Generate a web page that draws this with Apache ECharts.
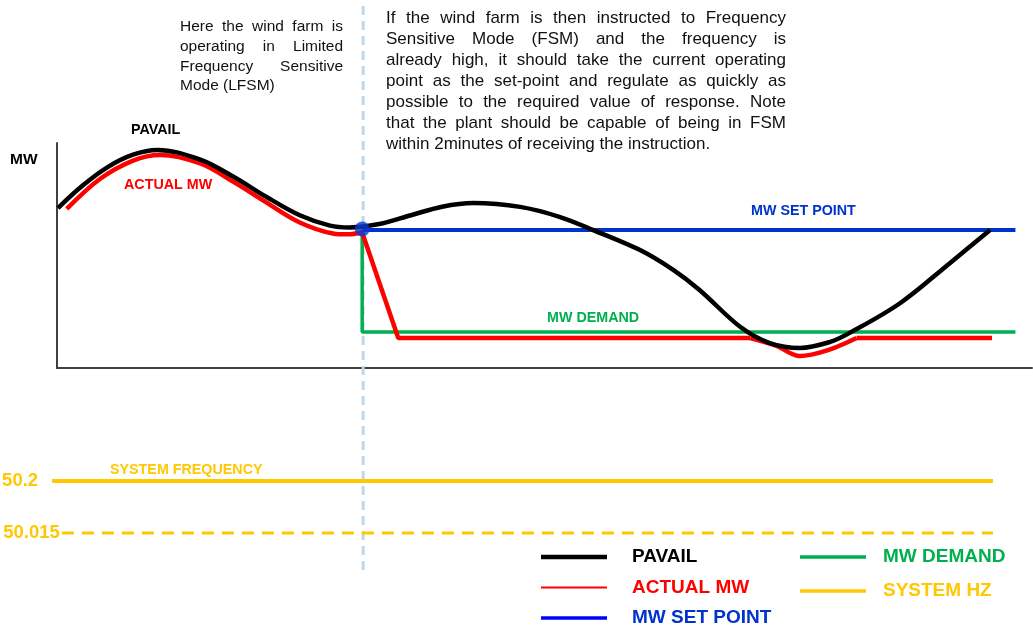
<!DOCTYPE html>
<html lang="en">
<head>
<meta charset="UTF-8">
<title>Wind farm FSM response</title>
<script src="https://cdn.jsdelivr.net/npm/echarts@6/dist/echarts.min.js"></script>
<style>
    html, body { margin: 0; padding: 0; background: #fff; }
    #main { width: 1033px; height: 630px; }
</style>
</head>
<body>
<div id="main"></div>
<script>
    // x = time (0..100 across the MW panel), y = MW (0..100, schematic)
    var pavail = [[0.1, 71.1], [2.6, 81.0], [5.2, 89.3], [7.8, 94.8], [10.3, 96.9], [14.7, 92.6],
        [18.1, 85.0], [21.5, 76.0], [24.9, 67.9], [28.0, 63.3], [30.0, 62.5], [33.2, 64.1],
        [36.3, 67.9], [39.5, 71.7], [42.7, 73.3], [47.5, 71.6], [51.6, 67.1], [55.0, 61.3],
        [59.8, 52.4], [63.2, 43.6], [65.9, 34.7], [70.1, 18.2], [73.1, 11.1], [76.2, 8.9],
        [79.3, 11.6], [81.3, 15.6], [86.5, 28.9], [91.6, 46.7], [95.7, 61.3]];
    var actualRise = [[1.0, 70.7], [4.4, 84.0], [7.8, 92.2], [10.6, 94.7], [14.7, 90.9], [18.1, 82.7],
        [21.5, 73.5], [24.9, 64.7], [28.3, 59.8], [29.8, 59.4], [31.3, 60.2]];
    var actualDrop = [[31.3, 60.2], [35.0, 13.3], [71.1, 13.3]];
    var actualDip = [[71.1, 13.3], [73.8, 9.8], [76.2, 5.3], [79.0, 7.8], [82.0, 13.3]];
    var actualTail = [[82.0, 13.3], [95.9, 13.3]];
    var setPoint = [[31.3, 61.3], [98.3, 61.3]];
    var demand = [[31.3, 61.3], [31.3, 16.0], [98.3, 16.0]];
    var switchPoint = [[31.3, 61.8]];
    var switchTime = 31.4;

    // frequency panel
    var hzLevels = ['50.015', '50.2'];
    var systemHz = [[-0.5, '50.2'], [96.0, '50.2']];
    var hzLimit = [[0.5, '50.015'], [96.0, '50.015']];

    var noteLeft = ['Here the wind farm is', 'operating in Limited', 'Frequency Sensitive', 'Mode (LFSM)'];
    var noteRight = ['If the wind farm is then instructed to Frequency',
        'Sensitive Mode (FSM) and the frequency is',
        'already high, it should take the current operating',
        'point as the set-point and regulate as quickly as',
        'possible to the required value of response. Note',
        'that the plant should be capable of being in FSM',
        'within 2minutes of receiving the instruction.'];

    var BLACK = '#000000', RED = '#ff0000', BLUE = '#0033cc', GREEN = '#00b050', GOLD = '#ffc800';
    var FONT = '"Liberation Sans", Arial, sans-serif';
    var SMOOTH = 0.35;

    // justified paragraph, word by word
    var ctx = document.createElement('canvas').getContext('2d');
    function paragraph(lines, left, right, top, step, size) {
        var font = size + 'px ' + FONT;
        ctx.font = font;
        var out = [];
        lines.forEach(function (line, i) {
            var words = line.split(' ');
            var widths = words.map(function (w) { return ctx.measureText(w).width; });
            var total = widths.reduce(function (a, b) { return a + b; }, 0);
            var last = i === lines.length - 1;
            var gap = last ? ctx.measureText(' ').width : (right - left - total) / (words.length - 1);
            var x = left;
            words.forEach(function (w, j) {
                out.push({ type: 'text', x: x, y: top + i * step,
                    style: { text: w, font: font, fill: '#111', verticalAlign: 'middle' } });
                x += widths[j] + gap;
            });
        });
        return out;
    }

    function tag(text, x, y, color, size) {
        return { type: 'text', x: x, y: y, z: 10,
            style: { text: text, font: 'bold ' + (size || 14.3) + 'px ' + FONT, fill: color, verticalAlign: 'middle' } };
    }

    var graphics = paragraph(noteLeft, 180, 343, 27, 19.7, 15.5)
        .concat(paragraph(noteRight, 386, 786, 18, 21, 17))
        .concat([
            tag('MW', 10, 160, BLACK, 15.5),
            tag('PAVAIL', 131, 130, BLACK),
            tag('ACTUAL MW', 124, 185, RED),
            tag('MW SET POINT', 751, 211, BLUE),
            tag('MW DEMAND', 547, 318, GREEN),
            tag('SYSTEM FREQUENCY', 110, 470, GOLD)
        ]);

    function hidden(extra) {
        return Object.assign({ show: false }, extra);
    }

    var myChart = echarts.init(document.getElementById('main'));
    var legendText = { fontFamily: FONT, fontWeight: 'bold', fontSize: 19, lineHeight: 20 };

    var option = {
        animation: false,
        backgroundColor: '#fff',
        grid: [
            { left: 57, right: 1, top: 143, bottom: 262 },
            { left: 57, right: 1, top: 455, bottom: 71 },
            { left: 57, right: 1, top: 0, bottom: 60 }
        ],
        xAxis: [
            { type: 'value', gridIndex: 0, min: 0, max: 100, axisLine: { lineStyle: { color: '#404040', width: 2 } },
                axisTick: { show: false }, axisLabel: { show: false }, splitLine: { show: false } },
            hidden({ type: 'value', gridIndex: 1, min: 0, max: 100 }),
            hidden({ type: 'value', gridIndex: 2, min: 0, max: 100 })
        ],
        yAxis: [
            { type: 'value', gridIndex: 0, min: 0, max: 100,
                axisLine: { show: true, lineStyle: { color: '#404040', width: 2 } },
                axisTick: { show: false }, axisLabel: { show: false }, splitLine: { show: false } },
            hidden({ type: 'category', gridIndex: 1, data: hzLevels }),
            hidden({ type: 'value', gridIndex: 2, min: 0, max: 1 })
        ],
        legend: [
            { orient: 'vertical', left: 541, top: 547, padding: 0, itemWidth: 66, itemHeight: 14, itemGap: 10.5,
                selectedMode: false, textStyle: Object.assign({ padding: [0, 0, 0, 20] }, legendText),
                data: [
                    { name: 'PAVAIL', icon: 'path://M0,0H66V4.5H0Z', textStyle: { color: BLACK } },
                    { name: 'ACTUAL MW', icon: 'path://M0,0H66V2H0Z', textStyle: { color: RED } },
                    { name: 'MW SET POINT', icon: 'path://M0,0H66V3.5H0Z', itemStyle: { color: '#0000ff' }, textStyle: { color: BLUE } }
                ] },
            { orient: 'vertical', left: 800, top: 547, padding: 0, itemWidth: 66, itemHeight: 14, itemGap: 14,
                selectedMode: false, textStyle: Object.assign({ padding: [0, 0, 0, 12] }, legendText),
                data: [
                    { name: 'MW DEMAND', icon: 'path://M0,0H66V3.5H0Z', textStyle: { color: GREEN } },
                    { name: 'SYSTEM HZ', icon: 'path://M0,0H66V3.5H0Z', textStyle: { color: GOLD } }
                ] }
        ],
        graphic: graphics,
        series: [
            { name: 'switch', type: 'line', xAxisIndex: 2, yAxisIndex: 2, z: 1, showSymbol: false,
                data: [[switchTime, 0], [switchTime, 1]],
                lineStyle: { color: '#bdd7ee', width: 3, type: [9, 6] } },
            { name: 'MW DEMAND', type: 'line', data: demand, showSymbol: false, z: 3,
                lineStyle: { color: GREEN, width: 3.5 }, itemStyle: { color: GREEN } },
            { name: 'MW SET POINT', type: 'line', data: setPoint, showSymbol: false, z: 3,
                lineStyle: { color: BLUE, width: 4 }, itemStyle: { color: BLUE } },
            { name: 'ACTUAL MW', type: 'line', data: actualRise, smooth: SMOOTH, showSymbol: false, z: 4,
                lineStyle: { color: RED, width: 4.5 }, itemStyle: { color: RED } },
            { name: 'ACTUAL MW', type: 'line', data: actualDrop, showSymbol: false, z: 4,
                lineStyle: { color: RED, width: 4.5 }, itemStyle: { color: RED } },
            { name: 'ACTUAL MW', type: 'line', data: actualDip, smooth: SMOOTH, showSymbol: false, z: 4,
                lineStyle: { color: RED, width: 4.5 }, itemStyle: { color: RED } },
            { name: 'ACTUAL MW', type: 'line', data: actualTail, showSymbol: false, z: 4,
                lineStyle: { color: RED, width: 4.5 }, itemStyle: { color: RED } },
            { name: 'PAVAIL', type: 'line', data: pavail, smooth: SMOOTH, showSymbol: false, z: 5,
                lineStyle: { color: BLACK, width: 4.5 }, itemStyle: { color: BLACK } },
            { name: 'switch point', type: 'scatter', data: switchPoint, symbolSize: 15, z: 6,
                itemStyle: { color: '#0a3bd0' } },
            { name: 'SYSTEM HZ', type: 'line', xAxisIndex: 1, yAxisIndex: 1, clip: false, z: 3,
                symbol: 'circle', symbolSize: 0,
                data: [{ value: systemHz[0], label: { show: true, position: 'left', distance: 14, formatter: hzLevels[1] } }, systemHz[1]],
                label: { fontFamily: FONT, fontWeight: 'bold', fontSize: 18.5, color: GOLD },
                lineStyle: { color: GOLD, width: 4 }, itemStyle: { color: GOLD } },
            { name: 'limit', type: 'line', xAxisIndex: 1, yAxisIndex: 1, clip: false, z: 3,
                symbol: 'circle', symbolSize: 0,
                data: [{ value: hzLimit[0], label: { show: true, position: 'left', distance: 2, formatter: hzLevels[0] } }, hzLimit[1]],
                label: { fontFamily: FONT, fontWeight: 'bold', fontSize: 18.5, color: GOLD },
                lineStyle: { color: GOLD, width: 3, type: [12, 8] }, itemStyle: { color: GOLD } }
        ]
    };

    myChart.setOption(option);
</script>
</body>
</html>
